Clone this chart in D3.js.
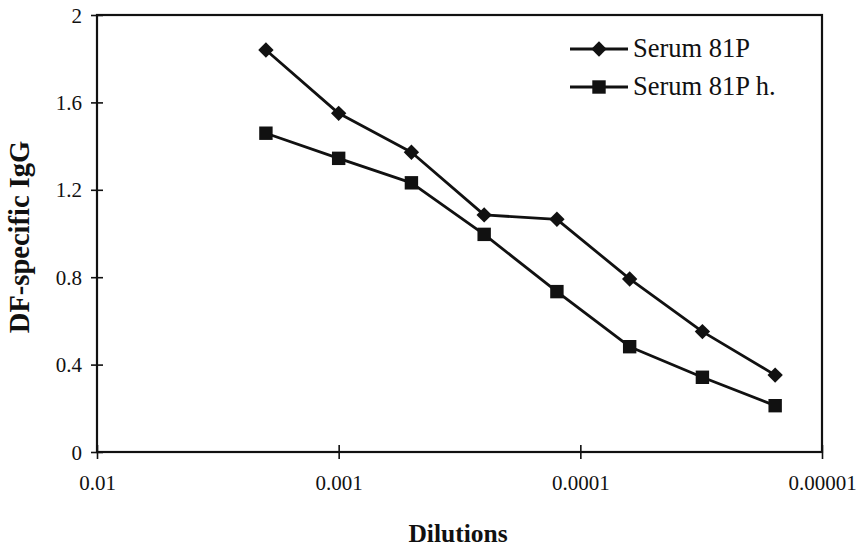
<!DOCTYPE html>
<html>
<head>
<meta charset="utf-8">
<script src="https://cdn.jsdelivr.net/npm/d3@7/dist/d3.min.js"></script>
<style>
  html, body { margin: 0; padding: 0; background: #fff; }
  svg { display: block; font-family: "Liberation Serif", "Times New Roman", serif; }
</style>
</head>
<body>
<svg id="chart" width="858" height="552"></svg>
<script>
// Two-fold serial dilutions, starting at 1:500
const dilutions = [0.002, 0.001, 0.0005, 0.00025, 0.000125, 0.0000625, 0.00003125, 0.000015625];
const serum81P  = [1.84, 1.55, 1.372, 1.085, 1.065, 0.792, 0.551, 0.352];
const serum81Ph = [1.459, 1.344, 1.232, 0.996, 0.734, 0.482, 0.342, 0.212];
const seriesNames = ["Serum 81P", "Serum 81P h."];
const xTicks = [0.01, 0.001, 0.0001, 0.00001];
const xTickLabels = ["0.01", "0.001", "0.0001", "0.00001"];
const yTicks = [0, 0.4, 0.8, 1.2, 1.6, 2];

const svg = d3.select("#chart");
const ink = "#111";
const plot = { left: 97, right: 822, top: 15, bottom: 452 };

const x = d3.scaleLog().domain([0.01, 0.00001]).range([plot.left, plot.right]);
const y = d3.scaleLinear().domain([0, 2]).range([plot.bottom, plot.top]);

// Plot frame
svg.append("rect")
  .attr("x", plot.left).attr("y", plot.top)
  .attr("width", plot.right - plot.left).attr("height", plot.bottom - plot.top)
  .attr("fill", "none").attr("stroke", ink).attr("stroke-width", 2.2);

// Y axis with ticks crossing the axis line
const yAxis = d3.axisLeft(y).tickValues(yTicks)
  .tickFormat(d => String(+d.toFixed(1)))
  .tickSize(0).tickPadding(0);
const gy = svg.append("g").attr("transform", `translate(${plot.left},0)`).call(yAxis);
gy.select(".domain").remove();
gy.selectAll(".tick line").attr("x1", -6).attr("x2", 6)
  .attr("stroke", ink).attr("stroke-width", 1.6);
gy.selectAll(".tick text")
  .attr("x", -15).attr("dy", "0.34em")
  .attr("fill", ink).style("font-size", "21px")
  .style("font-family", "'Liberation Serif', serif");

// X axis (log, decreasing dilution)
const xAxis = d3.axisBottom(x).tickValues(xTicks)
  .tickFormat((d, i) => xTickLabels[i])
  .tickSize(0).tickPadding(0);
const gx = svg.append("g").attr("transform", `translate(0,${plot.bottom})`).call(xAxis);
gx.select(".domain").remove();
gx.selectAll(".tick line").attr("y1", -7).attr("y2", 7)
  .attr("stroke", ink).attr("stroke-width", 1.6);
gx.selectAll(".tick text")
  .attr("y", 38).attr("dy", 0)
  .attr("fill", ink).style("font-size", "21px")
  .style("font-family", "'Liberation Serif', serif");

// Axis titles
svg.append("text")
  .attr("x", 458).attr("y", 542)
  .attr("text-anchor", "middle")
  .attr("font-weight", "bold").attr("font-size", 25.5)
  .attr("fill", ink)
  .text("Dilutions");

svg.append("text")
  .attr("transform", "translate(29,237) rotate(-90)")
  .attr("text-anchor", "middle")
  .attr("font-weight", "bold").attr("font-size", 28.5)
  .attr("fill", ink)
  .text("DF-specific IgG");

// Series
const diamond = d3.symbol().type(d3.symbolSquare).size(118);
const square = d3.symbol().type(d3.symbolSquare).size(180);
const markers = [
  g => g.append("path").attr("d", diamond()).attr("transform", "rotate(45)"),
  g => g.append("path").attr("d", square())
];
const seriesValues = [serum81P, serum81Ph];

const line = d3.line().x(d => x(d[0])).y(d => y(d[1]));

seriesValues.forEach((vals, si) => {
  const pts = dilutions.map((d, i) => [d, vals[i]]);
  svg.append("path")
    .datum(pts)
    .attr("d", line)
    .attr("fill", "none")
    .attr("stroke", ink)
    .attr("stroke-width", 2.8)
    .attr("stroke-linejoin", "round");
  pts.forEach(p => {
    const g = svg.append("g")
      .attr("transform", `translate(${x(p[0])},${y(p[1])})`)
      .attr("fill", ink);
    markers[si](g);
  });
});

// Legend
const legendY = [49, 87];
seriesNames.forEach((name, i) => {
  const ly = legendY[i];
  svg.append("line")
    .attr("x1", 570).attr("x2", 628)
    .attr("y1", ly).attr("y2", ly)
    .attr("stroke", ink).attr("stroke-width", 2.8);
  const g = svg.append("g").attr("transform", `translate(599,${ly})`).attr("fill", ink);
  markers[i](g);
  svg.append("text")
    .attr("x", 633).attr("y", ly + 8)
    .attr("font-size", 26.5)
    .attr("fill", ink)
    .text(name);
});
</script>
</body>
</html>
